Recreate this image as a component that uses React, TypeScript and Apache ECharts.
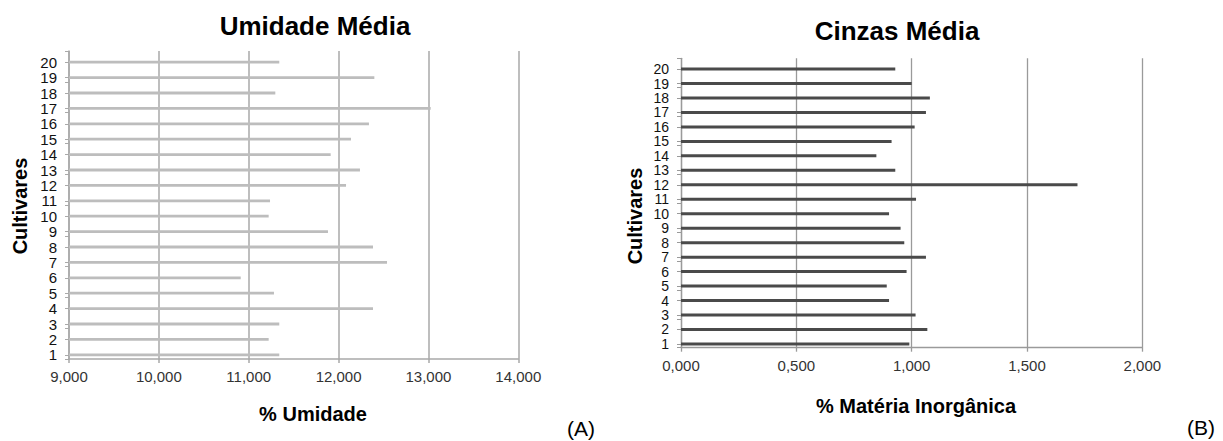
import React, { useEffect, useRef } from "react";
import * as echarts from "echarts";

const categories = ["1","2","3","4","5","6","7","8","9","10","11","12","13","14","15","16","17","18","19","20"];
const umidade = [11340, 11222, 11340, 12383, 11281, 10911, 12539, 12383, 11882, 11222, 11237, 12083, 12238, 11912, 12138, 12338, 13025, 11296, 12398, 11340];
const cinzas = [0.99, 1.068, 1.017, 0.902, 0.892, 0.978, 1.062, 0.968, 0.952, 0.902, 1.019, 1.719, 0.929, 0.847, 0.913, 1.013, 1.062, 1.079, 1.0, 0.929];
const umidadeTicks = ["9,000", "10,000", "11,000", "12,000", "13,000", "14,000"];
const cinzasTicks = ["0,000", "0,500", "1,000", "1,500", "2,000"];

const FONT = "'Liberation Sans', Arial, sans-serif";

export default function App() {
  const ref = useRef<HTMLDivElement>(null);
  useEffect(() => {
    document.body.style.margin = "0";
    const chart = echarts.init(ref.current!, null, { renderer: "svg" });
    const gridColorL = "#a9a9a9";
    const gridColorR = "#9a9a9a";
    const L = { left: 69, width: 449.3 };
    const R = { left: 681, width: 461.3 };
    const xVisible = (min: number, max: number, interval: number, ticks: string[], color: string, w: number) => ({
      type: "value",
      min,
      max,
      interval,
      axisLine: { show: true, lineStyle: { color, width: w } },
      axisTick: { show: true, length: 4, lineStyle: { color, width: w } },
      splitLine: { show: true, lineStyle: { color, width: w } },
      axisLabel: {
        margin: 10,
        fontSize: 15,
        fontFamily: FONT,
        color: "#333",
        formatter: (v: number) => ticks[Math.round((v - min) / interval)] ?? "",
      },
    });
    const xHidden = (min: number, max: number, interval: number) => ({
      type: "value",
      min,
      max,
      interval,
      show: false,
    });
    const yFrame = (color: string, w: number) => ({
      type: "category",
      data: categories,
      axisLine: { show: true, lineStyle: { color, width: w } },
      axisTick: { show: true, length: 4, lineStyle: { color, width: 1 } },
      axisLabel: { show: false },
      splitLine: { show: false },
    });
    const yBars = (color: string, size: number) => ({
      type: "category",
      data: categories,
      axisLine: { show: false },
      axisTick: { show: true, alignWithLabel: true, length: 4, lineStyle: { color, width: 1 } },
      axisLabel: { show: true, margin: 12, fontSize: size, lineHeight: size, fontFamily: FONT, color: "#111", interval: 0 },
      splitLine: { show: false },
    });
    const textStyle = (text: string, size: number, bold: boolean) => ({
      text,
      fontSize: size,
      fontWeight: bold ? "bold" : "normal",
      fontFamily: FONT,
      fill: "#000",
    });
    chart.setOption({
      animation: false,
      backgroundColor: "#fff",
      grid: [
        { left: L.left, width: L.width, top: 51, height: 308, containLabel: false },
        { left: L.left, width: L.width, top: 54.5, height: 308, containLabel: false },
        { left: R.left, width: R.width, top: 58.3, height: 289.4, containLabel: false },
        { left: R.left, width: R.width, top: 61.8, height: 289.4, containLabel: false },
      ],
      xAxis: [
        { gridIndex: 0, ...xVisible(9000, 14000, 1000, umidadeTicks, gridColorL, 1.5) },
        { gridIndex: 1, ...xHidden(9000, 14000, 1000) },
        { gridIndex: 2, ...xVisible(0, 2, 0.5, cinzasTicks, gridColorR, 1.3) },
        { gridIndex: 3, ...xHidden(0, 2, 0.5) },
      ],
      yAxis: [
        { gridIndex: 0, ...yFrame(gridColorL, 1.5) },
        { gridIndex: 1, ...yBars(gridColorL, 15) },
        { gridIndex: 2, ...yFrame(gridColorR, 1.3) },
        { gridIndex: 3, ...yBars(gridColorR, 14) },
      ],
      series: [
        {
          type: "bar",
          xAxisIndex: 1,
          yAxisIndex: 1,
          data: umidade,
          barWidth: 2.8,
          itemStyle: { color: "#bdbdbd" },
          clip: true,
        },
        {
          type: "bar",
          xAxisIndex: 3,
          yAxisIndex: 3,
          data: cinzas,
          barWidth: 3,
          itemStyle: { color: "#4a4a4a" },
          clip: true,
        },
      ],
      graphic: [
        { type: "text", x: 315, y: 26, style: { ...textStyle("Umidade Média", 26, true), textAlign: "center", textVerticalAlign: "middle" } },
        { type: "text", x: 897, y: 31, style: { ...textStyle("Cinzas Média", 26, true), textAlign: "center", textVerticalAlign: "middle" } },
        { type: "text", x: 20, y: 206, rotation: Math.PI / 2, style: { ...textStyle("Cultivares", 20, true), textAlign: "center", textVerticalAlign: "middle" } },
        { type: "text", x: 635, y: 216, rotation: Math.PI / 2, style: { ...textStyle("Cultivares", 20, true), textAlign: "center", textVerticalAlign: "middle" } },
        { type: "text", x: 313, y: 414, style: { ...textStyle("% Umidade", 20, true), textAlign: "center", textVerticalAlign: "middle" } },
        { type: "text", x: 916, y: 406, style: { ...textStyle("% Matéria Inorgânica", 20, true), textAlign: "center", textVerticalAlign: "middle" } },
        { type: "text", x: 567, y: 428, style: { ...textStyle("(A)", 21, false), textAlign: "left", textVerticalAlign: "middle" } },
        { type: "text", x: 1187, y: 427, style: { ...textStyle("(B)", 21, false), textAlign: "left", textVerticalAlign: "middle" } },
      ],
    });
    return () => chart.dispose();
  }, []);
  return <div ref={ref} style={{ width: 1223, height: 441 }} />;
}
